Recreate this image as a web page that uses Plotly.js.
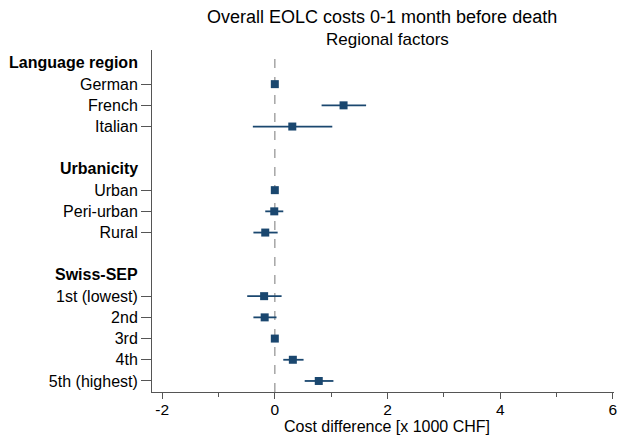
<!DOCTYPE html>
<html><head><meta charset="utf-8">
<script src="https://cdn.plot.ly/plotly-3.0.1.min.js"></script>
<style>body{margin:0;background:#fff}#chart{width:621px;height:435px}</style>
</head><body><div id="chart"></div>
<script>
const rowLabels = ["German","French","Italian","Urban","Peri-urban","Rural","1st (lowest)","2nd","3rd","4th","5th (highest)"];
const rowPos = [1,2,3,6,7,8,11,12,13,14,15];
const estimate = [0,1.22,0.31,0,-0.01,-0.17,-0.19,-0.18,0,0.32,0.78];
const ciLow = [0,0.83,-0.39,0,-0.17,-0.38,-0.49,-0.38,0,0.15,0.53];
const ciHigh = [0,1.62,1.02,0,0.15,0.05,0.12,0.03,0,0.51,1.04];
const groupHeaders = ["Language region","Urbanicity","Swiss-SEP"];
const headerPos = [0,5,10];
const xTicks = [-2,0,2,4,6];
const xTickText = ["-2","0","2","4","6"];
const titleText = "Overall EOLC costs 0-1 month before death";
const subtitleText = "Regional factors";
const xTitle = "Cost difference [x 1000 CHF]";

const navy = "#1a476f";
const FONT = "Liberation Sans, Arial, sans-serif";
const traces = [];
rowPos.forEach((p,i)=>{
  traces.push({x:[ciLow[i],ciHigh[i]], y:[p,p], mode:"lines", line:{color:navy,width:1.8}, hoverinfo:"skip", showlegend:false});
});
traces.push({x:estimate, y:rowPos, mode:"markers", marker:{symbol:"square", size:8, color:navy, line:{width:0}}, showlegend:false});

const annotations = groupHeaders.map((h,i)=>({text:"<b>"+h+"</b>", x:0, xref:"paper", xanchor:"right", xshift:-12, y:headerPos[i], yref:"y", showarrow:false, font:{size:16,color:"#000",family:FONT}}));
annotations.push({text:titleText, x:0.498, xref:"paper", y:1.0965, yref:"paper", xanchor:"center", yanchor:"middle", showarrow:false, font:{size:18,color:"#000",family:FONT}});
annotations.push({text:subtitleText, x:0.509, xref:"paper", y:1.032, yref:"paper", xanchor:"center", yanchor:"middle", showarrow:false, font:{size:17,color:"#000",family:FONT}});
annotations.push({text:xTitle, x:0.508, xref:"paper", y:-0.1, yref:"paper", xanchor:"center", yanchor:"middle", showarrow:false, borderpad:0, font:{size:16,color:"#000",family:FONT}});

const layout = {
  width:621, height:435,
  margin:{l:152, r:7, t:50, b:43},
  paper_bgcolor:"#fff", plot_bgcolor:"#fff",
  font:{family:FONT, size:16, color:"#000"},
  xaxis:{range:[-2.18,6.02], tickvals:xTicks, ticktext:xTickText, ticks:"outside", ticklen:6, tickcolor:"#555", tickfont:{size:15.5},
    ticklabelstandoff:-3,
    minor:{dtick:1, tick0:0, ticks:"outside", ticklen:4, tickcolor:"#555"},
    showline:true, linecolor:"#555", linewidth:1, showgrid:false, zeroline:false},
  yaxis:{range:[15.52,-0.61], tickvals:rowPos, ticktext:rowLabels, ticks:"outside", ticklen:10, tickcolor:"#555",
    showline:true, linecolor:"#555", linewidth:1, showgrid:false, zeroline:false, tickfont:{size:16}},
  shapes:[{type:"line", xref:"x", x0:0, x1:0, yref:"paper", y0:0, y1:1, line:{color:"#a0a0a0", width:1.4, dash:"dash"}, layer:"below"}],
  annotations:annotations
};
Plotly.newPlot("chart", traces, layout, {displayModeBar:false, staticPlot:true});
</script></body></html>
